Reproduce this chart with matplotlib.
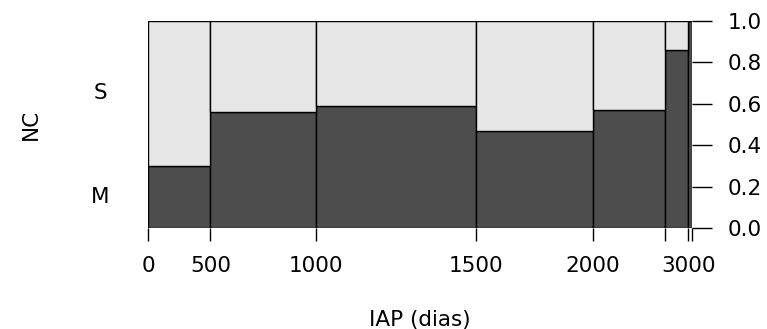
import numpy as np
import matplotlib
matplotlib.use('Agg')
import matplotlib.pyplot as plt

plt.rcParams['font.family'] = ['DejaVu Sans']

# spineplot data: NC (M/S) by IAP (dias) interval
breaks = [0, 500, 1000, 1500, 2000, 2500, 3000, 3500]
break_labels = ['0', '500', '1000', '1500', '2000', '', '3000', '']
counts = [32, 54, 82, 60, 37, 12, 2]          # observations per interval
prop_m = [0.30, 0.56, 0.59, 0.47, 0.57, 0.86, 1.0]
levels = ['M', 'S']
y_ticks = [0.0, 0.2, 0.4, 0.6, 0.8, 1.0]

dark = '#4d4d4d'
light = '#e6e6e6'

counts = np.array(counts, dtype=float)
prop_m = np.array(prop_m)
edges = np.concatenate([[0], np.cumsum(counts) / counts.sum()])
lefts = edges[:-1]
widths = np.diff(edges)

fig = plt.figure(figsize=(7.67, 3.29), dpi=100)
ax = fig.add_axes([148 / 767, 1 - 228 / 329, (692 - 148) / 767, (228 - 21) / 329])

ax.bar(lefts, prop_m, widths, align='edge', color=dark, edgecolor='black', linewidth=1.0)
ax.bar(lefts, 1 - prop_m, widths, bottom=prop_m, align='edge', color=light,
       edgecolor='black', linewidth=1.0)

ax.set_xlim(0, 1)
ax.set_ylim(0, 1)
for s in ax.spines.values():
    s.set_visible(False)

fs = 15.5
ax.set_xticks(edges)
ax.set_xticklabels(break_labels, fontsize=fs)
ax.tick_params(axis='x', length=9.5, width=1.0, direction='out', pad=11, colors='black')

ax.yaxis.tick_right()
ax.set_yticks(y_ticks)
ax.set_yticklabels([f'{v:.1f}' for v in y_ticks], fontsize=fs)
ax.tick_params(axis='y', length=14.5, width=1.0, direction='out', pad=11)

# category labels on the left, centred on the first bar's segments
mid_m = prop_m[0] / 2
mid_s = (prop_m[0] + 1) / 2
ax.text(-0.088, mid_m, levels[0], transform=ax.transAxes, ha='center', va='center', fontsize=fs)
ax.text(-0.088, mid_s, levels[1], transform=ax.transAxes, ha='center', va='center', fontsize=fs)

ax.text(-0.215, 0.5, 'NC', transform=ax.transAxes, rotation=90, ha='center', va='center', fontsize=fs)
ax.text(0.5, -0.445, 'IAP (dias)', transform=ax.transAxes, ha='center', va='center', fontsize=fs)

fig.savefig('out.png', dpi=100)
